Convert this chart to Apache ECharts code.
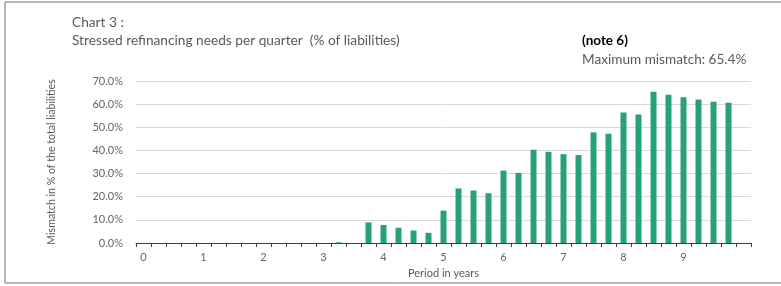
<!DOCTYPE html>
<html>
<head>
<meta charset="utf-8">
<script src="https://cdn.jsdelivr.net/npm/echarts@6/dist/echarts.min.js"></script>
<style>
  html, body { margin: 0; padding: 0; background: #fff; }
  #chart { width: 781px; height: 286px; }
</style>
</head>
<body>
<div id="chart"></div>
<script>
// quarters 0..40, a label every 4 quarters (years); the last slot has no label
const quarters = Array.from({ length: 41 }, (_, i) => String(i))
const yearLabels = ['0', '1', '2', '3', '4', '5', '6', '7', '8', '9', '']

// mismatch in % of total liabilities, one value per quarter
const mismatch = [
  0, 0, 0, 0, 0, 0, 0, 0, 0, 0,
  0, 0, 0, 0.3, 0, 8.9, 7.8, 6.6, 5.4, 4.4,
  14.0, 23.6, 22.7, 21.5, 31.3, 30.3, 40.3, 39.4, 38.4, 38.0,
  47.8, 47.2, 56.4, 55.5, 65.4, 64.1, 63.0, 62.0, 61.0, 60.6,
  null
]

const yTicks = [0, 10, 20, 30, 40, 50, 60, 70]

const FONT = 'Lato, "Open Sans", sans-serif'
const GREY = '#595959'
const GREEN = '#26a17d'

const chart = echarts.init(document.getElementById('chart'), null, { renderer: 'canvas' })

chart.setOption({
  animation: false,
  textStyle: { fontFamily: FONT },
  grid: { left: 136, right: 30, top: 81, bottom: 43, containLabel: false },
  graphic: [
    {
      type: 'rect',
      shape: { x: 5, y: 2, width: 800, height: 281 },
      style: { fill: 'none', stroke: '#707070', lineWidth: 1 },
      silent: true
    },
    {
      type: 'text', left: 72, top: 16,
      style: { text: 'Chart 3 :', font: '13.7px ' + FONT, fill: GREY }
    },
    {
      type: 'text', left: 72, top: 34,
      style: { text: 'Stressed refinancing needs per quarter  (% of liabilities)', font: '13.7px ' + FONT, fill: GREY }
    },
    {
      type: 'text', left: 582, top: 34,
      style: { text: '(note 6)', font: 'bold 13.5px ' + FONT, fill: '#000' }
    },
    {
      type: 'text', left: 582, top: 53,
      style: { text: 'Maximum mismatch: 65.4%', font: '13.6px ' + FONT, fill: GREY }
    }
  ],
  xAxis: {
    type: 'category',
    data: quarters,
    boundaryGap: true,
    name: 'Period in years',
    nameLocation: 'middle',
    nameGap: 23,
    nameTextStyle: { color: GREY, fontSize: 11, fontFamily: FONT },
    axisLine: { lineStyle: { color: '#404040', width: 1 } },
    axisTick: { show: true, interval: 0, length: 4, lineStyle: { color: '#404040' } },
    axisLabel: {
      interval: 3,
      color: '#666',
      fontSize: 11,
      margin: 9,
      formatter: (v, i) => yearLabels[i / 4]
    },
    splitLine: { show: false }
  },
  yAxis: {
    type: 'value',
    min: yTicks[0],
    max: yTicks[yTicks.length - 1],
    interval: 10,
    name: 'Mismatch in % of the total liabilities',
    nameLocation: 'middle',
    nameGap: 79,
    nameRotate: 90,
    nameTextStyle: { color: GREY, fontSize: 10.6, fontFamily: FONT },
    axisLine: { show: false },
    axisTick: { show: false },
    axisLabel: {
      color: '#666',
      fontSize: 11,
      margin: 13,
      formatter: (v) => v.toFixed(1) + '%'
    },
    splitLine: { lineStyle: { color: '#d9d9d9', width: 1 } }
  },
  series: [
    {
      type: 'bar',
      data: mismatch,
      barWidth: 6,
      itemStyle: { color: GREEN },
      silent: true
    }
  ]
})
</script>
</body>
</html>
